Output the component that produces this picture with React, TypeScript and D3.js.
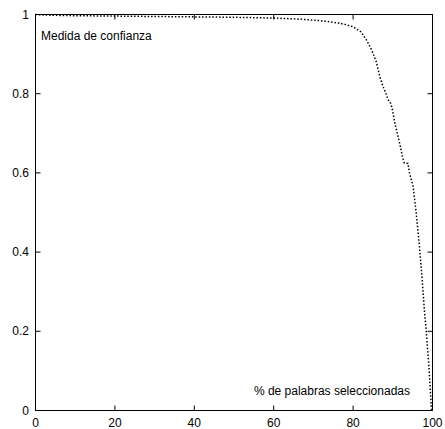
import React from "react";
import * as d3 from "d3";

const pct = [0, 2, 5, 10, 20, 30, 40, 50, 60, 65, 70, 73, 76, 78, 80, 82, 83.3, 84.6, 85.8, 86.7, 87.5, 88.3, 88.8, 89.5, 89.9, 90.5, 91.3, 91.9, 92.4, 92.9, 93.8, 94.2, 95.1, 95.5, 95.9, 96.7, 97.4, 98.0, 98.4, 98.7, 99.1, 99.4, 99.75];
const conf = [1.0, 0.999, 0.998, 0.997, 0.996, 0.995, 0.994, 0.993, 0.991, 0.989, 0.986, 0.983, 0.979, 0.975, 0.969, 0.956, 0.937, 0.912, 0.882, 0.844, 0.819, 0.80, 0.785, 0.775, 0.760, 0.727, 0.693, 0.667, 0.642, 0.625, 0.624, 0.600, 0.567, 0.533, 0.499, 0.415, 0.331, 0.247, 0.205, 0.162, 0.112, 0.061, 0.0];
const xTicks = [0, 20, 40, 60, 80, 100];
const yTicks = [0, 0.2, 0.4, 0.6, 0.8, 1];
const yLabel = "Medida de confianza";
const xLabel = "% de palabras seleccionadas";

export default function App() {
  const W = 445, H = 429;
  const L = 35.5, R = 432.5, T = 14.5, B = 410.5;
  const x = d3.scaleLinear().domain([0, 100]).range([L, R]);
  const y = d3.scaleLinear().domain([0, 1]).range([B, T]);
  const line = d3.line<number>().x((_, i) => x(pct[i])).y((_, i) => y(conf[i]));
  const font = "'Liberation Sans', Arial, Helvetica, sans-serif";
  const tl = 5;
  return (
    <svg width={W} height={H} style={{ position: "absolute", left: 0, top: 0, background: "#fff" }} fontFamily={font} fontSize={12}>
      <rect x={0} y={0} width={W} height={H} fill="#fff" />
      {xTicks.map((t) => (
        <g key={"x" + t}>
          <line x1={x(t)} x2={x(t)} y1={B} y2={B - tl} stroke="#000" />
          <line x1={x(t)} x2={x(t)} y1={T} y2={T + tl} stroke="#000" />
          <text x={x(t)} y={427} textAnchor="middle" fill="#000">{t}</text>
        </g>
      ))}
      {yTicks.map((t) => (
        <g key={"y" + t}>
          <line x1={L} x2={L + tl} y1={y(t)} y2={y(t)} stroke="#000" />
          <line x1={R} x2={R - tl} y1={y(t)} y2={y(t)} stroke="#000" />
          <text x={29} y={y(t) + 4} textAnchor="end" fill="#000">{t}</text>
        </g>
      ))}
      <path d={line(conf) || ""} fill="none" stroke="#000" strokeWidth={1.5} strokeDasharray="1.5 1.9" />
      <rect x={L} y={T} width={R - L} height={B - T} fill="none" stroke="#000" strokeWidth={1} />
      <text x={41} y={40} fill="#000">{yLabel}</text>
      <text x={410} y={395} textAnchor="end" fill="#000">{xLabel}</text>
    </svg>
  );
}
